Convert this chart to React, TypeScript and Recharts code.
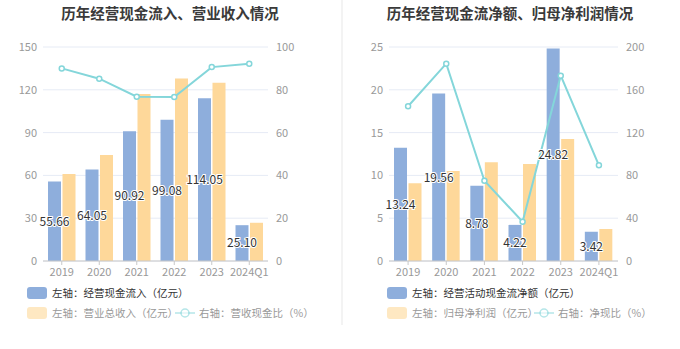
import { ComposedChart, Bar, Line, XAxis, YAxis, CartesianGrid, LabelList } from 'recharts';

const years = ['2019', '2020', '2021', '2022', '2023', '2024Q1'];

// left chart
const cashInflow = [55.66, 64.05, 90.92, 99.08, 114.05, 25.1];
const revenue = [61.0, 74.3, 117.0, 128.0, 125.0, 26.8];
const cashRevenueRatio = [90.0, 85.2, 76.8, 76.6, 90.6, 92.2];

// right chart
const netCashFlow = [13.24, 19.56, 8.78, 4.22, 24.82, 3.42];
const netProfit = [9.08, 10.5, 11.53, 11.33, 14.25, 3.74];
const netCashRatio = [144.6, 184.4, 75.0, 36.7, 173.2, 89.4];

const leftTicks = [0, 30, 60, 90, 120, 150];
const leftRightTicks = [0, 20, 40, 60, 80, 100];
const rightTicks = [0, 5, 10, 15, 20, 25];
const rightRightTicks = [0, 40, 80, 120, 160, 200];

const BLUE = '#8eaedc';
const YELLOW = '#fed89a';
const CYAN = '#84d6da';
const FONT = "'Noto Sans CJK SC', 'Noto Sans', sans-serif";

const leftData = years.map((y, i) => ({ year: y, a: cashInflow[i], b: revenue[i], r: cashRevenueRatio[i] }));
const rightData = years.map((y, i) => ({ year: y, a: netCashFlow[i], b: netProfit[i], r: netCashRatio[i] }));

interface PanelProps {
  data: any[];
  title: string;
  leftW: number;
  rightW: number;
  ticksL: number[];
  ticksR: number[];
  legendA: string;
  legendB: string;
  legendR: string;
  lx: number;
  ix: number;
}

function Panel({ data, title, leftW, rightW, ticksL, ticksR, legendA, legendB, legendR, lx, ix }: PanelProps) {
  const tick = { fill: '#999', fontSize: 11, fontFamily: FONT };
  return (
    <div style={{ position: 'relative', width: 340, height: 349 }}>
      <div style={{ position: 'absolute', left: 0, top: 2, width: 340, textAlign: 'center', fontSize: 14.5, fontWeight: 'bold', color: '#3a3a3a' }}>
        {title}
      </div>
      <ComposedChart width={340} height={349} data={data} margin={{ top: 47, right: 0, bottom: 58, left: 0 }}
        barSize={13} barGap={1.5}>
        <CartesianGrid vertical={false} stroke="#e6ebf5" yAxisId="l" />
        <XAxis dataKey="year" height={30} tick={tick} tickSize={4} tickMargin={3}
          axisLine={{ stroke: '#c8c8c8' }} tickLine={{ stroke: '#c8c8c8' }} interval={0} />
        <YAxis yAxisId="l" orientation="left" width={leftW} domain={[ticksL[0], ticksL[ticksL.length - 1]]}
          ticks={ticksL} tick={tick} axisLine={false} tickLine={false} tickMargin={0} />
        <YAxis yAxisId="r" orientation="right" width={rightW} domain={[ticksR[0], ticksR[ticksR.length - 1]]}
          ticks={ticksR} tick={tick} axisLine={false} tickLine={false} tickMargin={2} />
        <Bar yAxisId="l" dataKey="a" fill={BLUE} isAnimationActive={false}>
          <LabelList dataKey="a" position="inside" formatter={(v: any) => Number(v).toFixed(2)}
            style={{ fill: '#333', stroke: '#fff', strokeWidth: 2, paintOrder: 'stroke', fontSize: 12, fontFamily: FONT }} />
        </Bar>
        <Bar yAxisId="l" dataKey="b" fill={YELLOW} isAnimationActive={false} />
        <Line yAxisId="r" dataKey="r" stroke={CYAN} strokeWidth={2} type="linear"
          dot={{ r: 2.5, fill: '#fff', stroke: CYAN, strokeWidth: 1.5 }} isAnimationActive={false} />
      </ComposedChart>
      <div style={{ position: 'absolute', left: lx, top: 286, display: 'flex', alignItems: 'center', fontSize: 10.5, color: '#333', lineHeight: '14px' }}>
        <span style={{ width: 20, height: 12, background: BLUE, borderRadius: 3, marginRight: 5 }} />
        {legendA}
      </div>
      <div style={{ position: 'absolute', left: lx, top: 306, display: 'flex', alignItems: 'center', fontSize: 10.5, color: '#999', lineHeight: '14px' }}>
        <span style={{ width: 20, height: 12, background: YELLOW, opacity: 0.6, borderRadius: 3, marginRight: 5 }} />
        {legendB}
      </div>
      <div style={{ position: 'absolute', left: ix, top: 306, display: 'flex', alignItems: 'center', fontSize: 10.5, color: '#999', lineHeight: '14px' }}>
        <svg width={20} height={12} style={{ marginRight: 4 }}>
          <line x1={0} y1={6} x2={20} y2={6} stroke={CYAN} strokeWidth={1.5} opacity={0.6} />
          <circle cx={10} cy={6} r={4} fill="#fff" stroke={CYAN} strokeWidth={1.5} opacity={0.6} />
        </svg>
        {legendR}
      </div>
    </div>
  );
}

export default function App() {
  return (
    <div style={{ position: 'absolute', left: 0, top: 0, width: 680, height: 349, background: '#fff', fontFamily: FONT, display: 'flex' }}>
      <Panel data={leftData} title="历年经营现金流入、营业收入情况" leftW={43} rightW={72}
        ticksL={leftTicks} ticksR={leftRightTicks}
        legendA="左轴：经营现金流入（亿元）" legendB="左轴：营业总收入（亿元）" legendR="右轴：营收现金比（%）"
        lx={27} ix={175} />
      <div style={{ position: 'absolute', left: 341, top: 0, width: 2, height: 325, background: '#f3f3f3' }} />
      <Panel data={rightData} title="历年经营现金流净额、归母净利润情况" leftW={49} rightW={62}
        ticksL={rightTicks} ticksR={rightRightTicks}
        legendA="左轴：经营活动现金流净额（亿元）" legendB="左轴：归母净利润（亿元）" legendR="右轴：净现比（%）"
        lx={47} ix={194} />
    </div>
  );
}
